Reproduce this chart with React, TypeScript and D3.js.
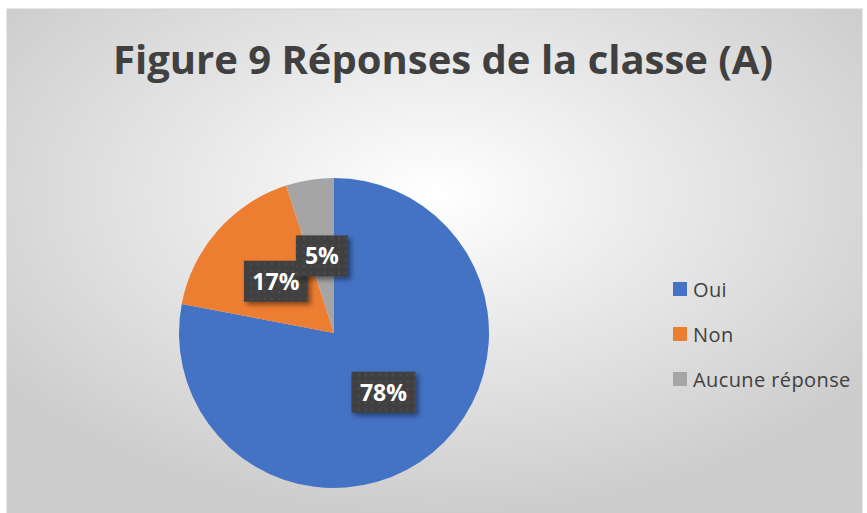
import React, { useEffect, useRef } from 'react'
import * as d3 from 'd3'

const title = 'Figure 9 Réponses de la classe (A)'
const categories = ['Oui', 'Non', 'Aucune réponse']
const values = [78, 17, 5]
const colors = ['#4472C4', '#ED7D31', '#A5A5A5']

const W = 867
const H = 513

export default function App() {
  const ref = useRef<SVGSVGElement>(null)

  useEffect(() => {
    const svg = d3.select(ref.current)
    svg.selectAll('*').remove()

    const defs = svg.append('defs')
    const grad = defs.append('radialGradient')
      .attr('id', 'bg')
      .attr('cx', '0.5').attr('cy', '0.36').attr('r', '0.62')
    grad.append('stop').attr('offset', '0').attr('stop-color', '#ffffff')
    grad.append('stop').attr('offset', '1').attr('stop-color', '#cdcdcd')

    const pat = defs.append('pattern')
      .attr('id', 'dots')
      .attr('width', 7).attr('height', 7)
      .attr('patternUnits', 'userSpaceOnUse')
    pat.append('rect').attr('width', 7).attr('height', 7).attr('fill', '#404040')
    pat.append('rect').attr('x', 2).attr('y', 2).attr('width', 2).attr('height', 2).attr('fill', '#4e4e4e')

    const shadow = defs.append('filter').attr('id', 'shadow')
      .attr('x', '-20%').attr('y', '-20%').attr('width', '150%').attr('height', '160%')
    shadow.append('feDropShadow')
      .attr('dx', 3).attr('dy', 3).attr('stdDeviation', 2.5)
      .attr('flood-color', '#000').attr('flood-opacity', 0.45)

    // chart area
    svg.append('rect').attr('width', W).attr('height', H).attr('fill', '#ffffff')
    svg.append('rect')
      .attr('x', 7).attr('y', 9).attr('width', 855).attr('height', H)
      .attr('fill', 'url(#bg)')
      .attr('stroke', '#d0d0d0').attr('stroke-width', 1)

    svg.append('text')
      .attr('x', 443).attr('y', 74)
      .attr('text-anchor', 'middle')
      .attr('font-family', '"Open Sans", sans-serif')
      .attr('font-weight', 'bold')
      .attr('font-size', 40)
      .attr('fill', '#404040')
      .attr('textLength', 660)
      .attr('lengthAdjust', 'spacingAndGlyphs')
      .text(title)

    const cx = 334, cy = 333, r = 155
    const pie = d3.pie<number>().sort(null)
    const arcs = pie(values)
    const arc = d3.arc<d3.PieArcDatum<number>>().innerRadius(0).outerRadius(r)

    const g = svg.append('g').attr('transform', `translate(${cx},${cy})`)
    g.selectAll('path.slice')
      .data(arcs)
      .join('path')
      .attr('class', 'slice')
      .attr('d', arc)
      .attr('fill', (_, i) => colors[i])

    // data labels
    const labels = g.selectAll('g.lbl')
      .data(arcs)
      .join('g')
      .attr('class', 'lbl')
      .attr('transform', d => `translate(${arc.centroid(d)})`)

    labels.each(function (d) {
      const sel = d3.select(this)
      const txt = d.data + '%'
      const w = txt.length === 2 ? 52 : 64
      sel.append('rect')
        .attr('x', -w / 2).attr('y', -21)
        .attr('width', w).attr('height', 41)
        .attr('fill', 'url(#dots)')
        .attr('filter', 'url(#shadow)')
      sel.append('text')
        .attr('text-anchor', 'middle')
        .attr('y', 8)
        .attr('font-family', '"Open Sans", sans-serif')
        .attr('font-weight', 'bold')
        .attr('font-size', 23)
        .attr('fill', '#ffffff')
        .text(txt)
    })

    // legend
    const leg = svg.append('g').attr('transform', 'translate(673,282)')
    const item = leg.selectAll('g')
      .data(categories)
      .join('g')
      .attr('transform', (_, i) => `translate(0,${i * 45})`)
    item.append('rect')
      .attr('width', 14).attr('height', 14)
      .attr('fill', (_, i) => colors[i])
    item.append('text')
      .attr('x', 20).attr('y', 15)
      .attr('font-family', '"Open Sans", sans-serif')
      .attr('font-size', 20)
      .attr('letter-spacing', 0.4)
      .attr('fill', '#404040')
      .text(d => d)
  }, [])

  return (
    <svg ref={ref} width={W} height={H}
      style={{ position: 'absolute', left: 0, top: 0, display: 'block' }} />
  )
}
